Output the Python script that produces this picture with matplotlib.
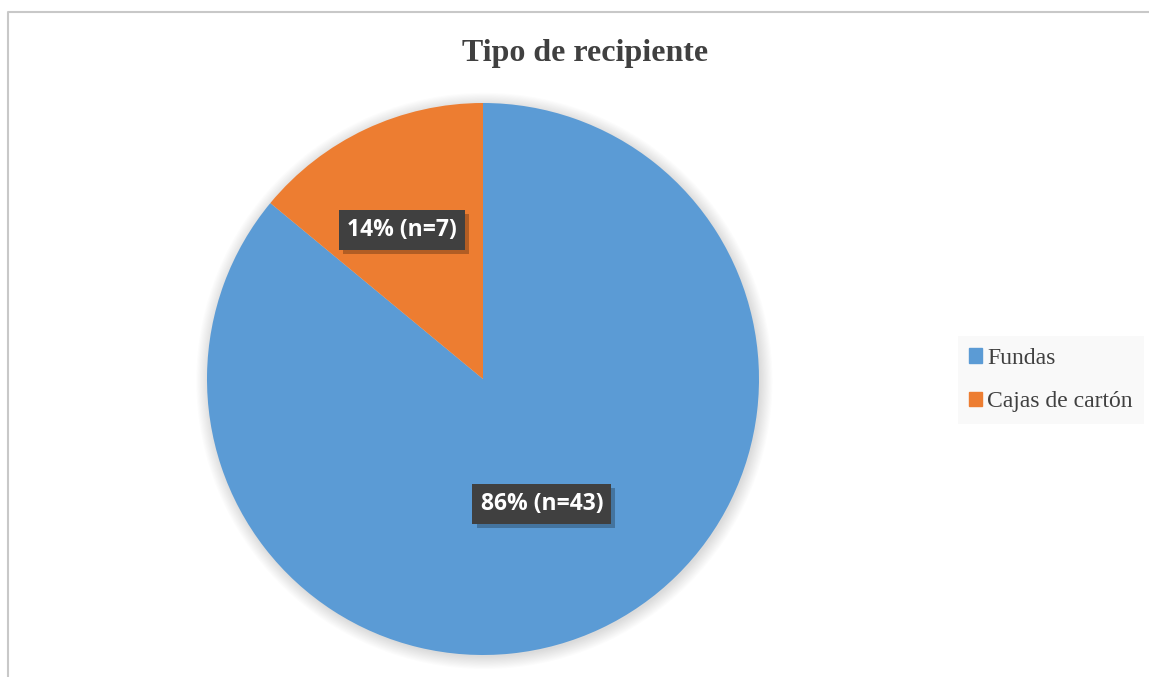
import matplotlib.pyplot as plt
import matplotlib.patches as mpatches
import matplotlib.patheffects as pe
from matplotlib.lines import Line2D
import numpy as np

labels = ['Fundas', 'Cajas de cartón']
counts = [43, 7]
colors = ['#5B9BD5', '#ED7D31']
label_dist = [0.50, 0.615]
label_turn = [0, 3.3]  # degrees, nudge along the arc

fig = plt.figure(figsize=(11.49, 6.77), dpi=100)
W, H = 1149, 677

# light gray frame (only top and left visible)
fig.lines.append(Line2D([8 / W, 8 / W, 1.0], [0, 1 - 12 / H, 1 - 12 / H],
                        transform=fig.transFigure, color='#C8C8C8', lw=1.5))

cx, cy, r = 483, 379, 276
ax = fig.add_axes([(cx - r) / W, (H - cy - r) / H, 2 * r / W, 2 * r / H])

# soft shadow behind the pie
for i in range(12):
    ax.add_patch(mpatches.Circle((0.005, -0.007), 1 + i * 0.004, color='black',
                                 alpha=0.011, lw=0, zorder=0, clip_on=False))

wedges, _ = ax.pie(counts, colors=colors, startangle=90, counterclock=False,
                   radius=1, wedgeprops=dict(lw=0), frame=True)
ax.set_xlim(-1, 1)
ax.set_ylim(-1, 1)
ax.set_aspect('equal')
ax.axis('off')

total = sum(counts)
for w, n, d, dt in zip(wedges, counts, label_dist, label_turn):
    ang = np.deg2rad((w.theta1 + w.theta2) / 2 + dt)
    x, y = d * np.cos(ang), d * np.sin(ang)
    txt = f'{round(100 * n / total)}% (n={n})'
    t = ax.text(x, y, txt, ha='center', va='center', fontsize=16.5, fontweight='bold',
                color='white', family='Open Sans', zorder=5,
                bbox=dict(boxstyle='square,pad=0.35', fc='#404040', ec='none'))
    t.get_bbox_patch().set_path_effects([
        pe.SimplePatchShadow(offset=(3, -3), shadow_rgbFace='black', alpha=0.25),
        pe.Normal()])

fig.text(585 / W, 1 - 53 / H, 'Tipo de recipiente', ha='center', va='center',
         fontsize=23, fontweight='bold', family='Liberation Serif', color='#404040')

handles = [mpatches.Patch(color=c) for c in colors]
leg = fig.legend(handles, labels, loc='center', bbox_to_anchor=(1051 / W, 1 - 380 / H),
                 prop={'family': 'Liberation Serif', 'size': 17}, frameon=True,
                 handlelength=0.55, handleheight=0.55, handletextpad=0.2,
                 labelspacing=0.95, borderpad=0.5, borderaxespad=0, fancybox=False)
leg.get_frame().set_facecolor('#F8F8F8')
leg.get_frame().set_edgecolor('none')
for t in leg.get_texts():
    t.set_color('#404040')

fig.savefig('out.png', dpi=100)
